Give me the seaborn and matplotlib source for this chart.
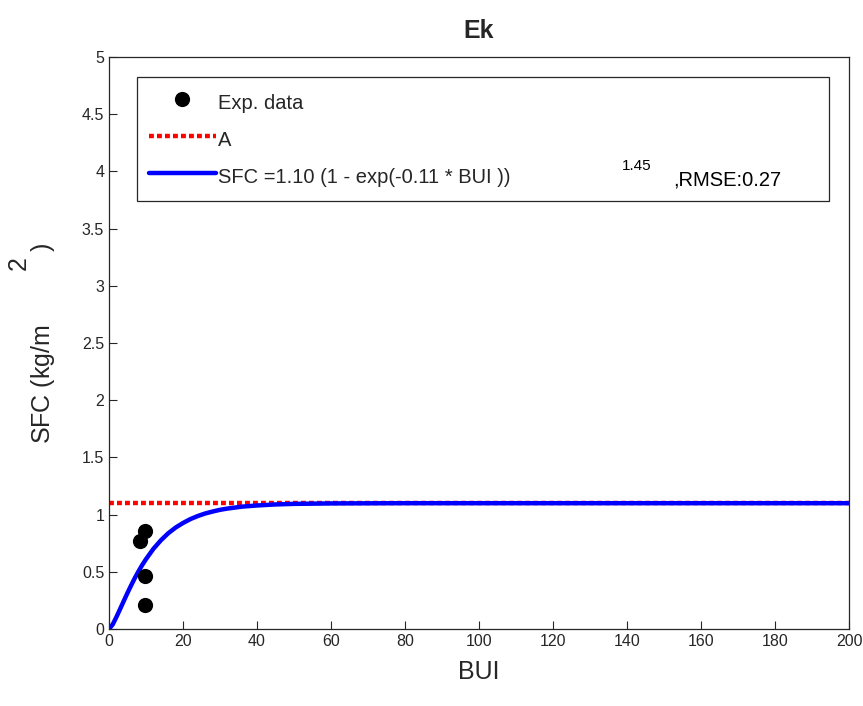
import matplotlib
matplotlib.use("Agg")
import matplotlib.pyplot as plt
import seaborn as sns

exp_bui = [8.4, 9.7, 9.7, 9.7]
exp_sfc = [0.77, 0.86, 0.46, 0.21]

# asymptote A
a_bui = [0, 200]
a_sfc = [1.10, 1.10]

# fitted curve
fit_bui = [0, 1, 2, 3, 4, 5, 6, 7, 8, 9, 10, 12, 14, 16, 18, 20, 22, 24, 26, 28, 30,
           32, 36, 40, 45, 50, 60, 80, 100, 150, 200]
fit_sfc = [0.0, 0.04, 0.105, 0.175, 0.246, 0.316, 0.383, 0.447, 0.506, 0.561, 0.611,
           0.701, 0.775, 0.837, 0.887, 0.927, 0.961, 0.988, 1.010, 1.027, 1.042,
           1.053, 1.070, 1.080, 1.089, 1.094, 1.098, 1.100, 1.100, 1.100, 1.100]

xticks = list(range(0, 201, 20))
yticks = [0, 0.5, 1, 1.5, 2, 2.5, 3, 3.5, 4, 4.5, 5]
ytick_labels = ["0", "0.5", "1", "1.5", "2", "2.5", "3", "3.5", "4", "4.5", "5"]

sns.set_style("ticks")
plt.rcParams["font.family"] = ["Liberation Sans", "DejaVu Sans"]
plt.rcParams["mathtext.fontset"] = "custom"
plt.rcParams["mathtext.rm"] = "Liberation Sans"

fig = plt.figure(figsize=(8.63, 7.06), dpi=100)
ax = fig.add_axes([0.1263, 0.109, 0.8575, 0.8103])

sns.scatterplot(x=exp_bui, y=exp_sfc, ax=ax, color="black", s=120, edgecolor="black",
                linewidth=0, label="Exp. data", zorder=3)
sns.lineplot(x=a_bui, y=a_sfc, ax=ax, color="#ff0000", linewidth=3.2, label="A")
ax.lines[-1].set_dashes((1.1, 0.7))
sns.lineplot(x=fit_bui, y=fit_sfc, ax=ax, color="#0000ff", linewidth=3.2,
             label="SFC =1.10 (1 - exp(-0.11 * BUI ))")

ax.set_xlim(0, 200)
ax.set_ylim(0, 5)
ax.set_xticks(xticks)
ax.set_yticks(yticks)
ax.set_yticklabels(ytick_labels)
ax.tick_params(direction="in", length=5.5, width=0.8, colors="#262626", labelsize=11.5,
               top=False, right=False)
for sp in ax.spines.values():
    sp.set_color("#262626")
    sp.set_linewidth(0.9)

ax.set_xlabel("BUI", fontsize=18, color="#262626", labelpad=8)
ax.set_ylabel(r"SFC (kg/m$\hspace{3.0}$)", fontsize=18, color="#262626", labelpad=18)
fig.text(18.5 / 863, 1 - 263 / 706, "2", rotation=90, fontsize=18, color="#262626",
         ha="center", va="center")
ax.set_title("Ek", fontsize=18, fontweight="bold", pad=14)

leg = ax.legend(loc="upper left", bbox_to_anchor=(0.0378, 0.748, 0.935, 0.217), mode="expand",
                fontsize=14.5, frameon=True, fancybox=False, edgecolor="#262626",
                framealpha=1, handlelength=3.3, handleheight=1.6, handletextpad=0.1,
                labelspacing=0.55, borderpad=0.6, borderaxespad=0)
leg.get_frame().set_linewidth(0.9)
ax.text(0.6932, 0.8025, "1.45", transform=ax.transAxes, fontsize=11, color="black",
        va="baseline", zorder=6)
ax.text(0.762, 0.776, ",RMSE:0.27", transform=ax.transAxes, fontsize=14.5, color="black",
        va="baseline", zorder=6)

fig.savefig("out.png", dpi=100)
